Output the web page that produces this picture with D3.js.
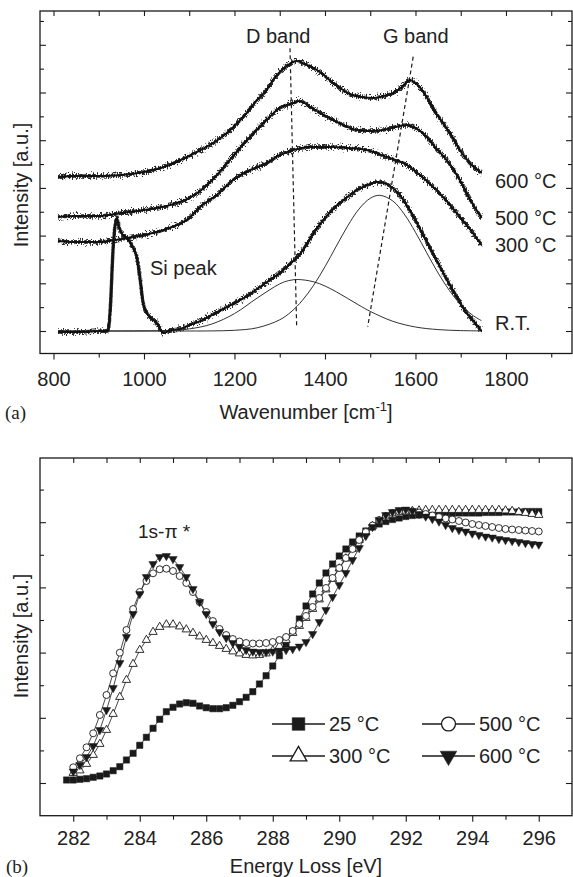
<!DOCTYPE html>
<html><head><meta charset="utf-8">
<script src="https://cdn.jsdelivr.net/npm/d3@7"></script>
<style>
html,body{margin:0;padding:0;background:#fff;}
svg{display:block;}
text{font-family:"Liberation Sans",Arial,Helvetica,sans-serif;fill:#222;}
</style></head><body>
<svg id="chart" width="573" height="877"></svg>
<script>
// ---------- Panel (a): Raman spectra, [wavenumber cm-1, intensity a.u.] ----------
const ramanRT = [[810,-1],[850,-1],[880,-0.5],[910,0],[920,0],[925,18],[932,84],[937,108],[940,113],[944,105],[950,98],[962,93],[976,83],[984,74],[991,54],[998,28],[1005,19],[1013,14],[1028,8],[1043,-2],[1060,1],[1080,2],[1100,6],[1125,10],[1150,16],[1175,22],[1200,28],[1225,34],[1250,42],[1275,50],[1300,58],[1325,68],[1350,80],[1375,98],[1400,113],[1425,125],[1450,134],[1475,142],[1500,147],[1515,149],[1530,148],[1550,143],[1570,133],[1590,119],[1610,102],[1630,85],[1650,68],[1670,51],[1690,35],[1713,18],[1730,9],[1746,0]];
const raman300 = [[810,90],[850,89],[900,89],[950,92],[1000,96],[1050,102],[1100,113],[1124,124],[1161,136],[1197,151],[1230,160],[1271,168],[1300,176],[1330,181],[1367,184],[1418,184],[1450,183],[1492,181],[1536,174],[1581,166],[1625,150],[1669,130],[1698,114],[1720,102],[1746,86]];
const raman500 = [[810,114],[850,115],[900,115],[950,118],[1000,121],[1050,125],[1100,133],[1124,140],[1153,152],[1175,163],[1197,175],[1220,187],[1245,199],[1271,211],[1300,223],[1330,228],[1345,230],[1367,224],[1390,218],[1418,211],[1445,205],[1470,201],[1500,200],[1529,201],[1555,204],[1581,206],[1600,203],[1625,194],[1645,183],[1669,171],[1698,151],[1720,132],[1746,113]];
const raman600 = [[810,154],[850,155],[900,155],[950,156],[1000,159],[1050,165],[1095,174],[1125,181],[1153,188],[1175,195],[1200,205],[1225,217],[1250,231],[1271,241],[1290,254],[1316,265],[1337,270],[1360,266],[1382,261],[1400,255],[1418,248],[1440,241],[1455,237],[1480,234],[1507,233],[1530,235],[1551,238],[1570,244],[1588,251],[1600,248],[1625,234],[1645,218],[1661,208],[1680,195],[1698,181],[1720,168],[1746,158]];
const fitD = [[810,0],[1000,0.1],[1050,0.5],[1100,2.1],[1150,7.0],[1200,17.4],[1250,32.9],[1300,47.1],[1320,50.4],[1340,51.5],[1375,49.2],[1400,45.0],[1425,39.2],[1450,32.6],[1475,25.9],[1500,19.6],[1550,9.7],[1600,4.0],[1650,1.4],[1700,0.4],[1746,0.1]];
const fitG = [[810,0],[1000,0],[1100,0],[1150,0.1],[1200,0.7],[1250,3.2],[1300,11.2],[1325,19.1],[1350,30.6],[1375,45.8],[1400,64.3],[1425,84.8],[1450,104.9],[1475,121.9],[1500,132.7],[1521,135.7],[1550,130],[1575,117],[1600,98.7],[1625,78.1],[1650,58],[1675,40.5],[1700,26.4],[1725,16.2],[1746,10.3]];
const bandD = [[1322.7,282.7],[1337.5,2.7]];
const bandG = [[1595,274.3],[1494.4,4.3]];
const xMajorA = [800,1000,1200,1400,1600,1800];
const xMinorA = [900,1100,1300,1500,1700,1900];
const yMajorA = [0,47.7,95.4,143.1,190.8,238.5,286.2];
const yMinorA = [23.85,71.55,119.25,166.95,214.65,262.35,310.05];
const spectraLabels = ["600 °C","500 °C","300 °C","R.T."];

// ---------- Panel (b): EELS, energy loss (eV) and intensities (a.u.) ----------
const energy = [281.8,282.0,282.2,282.4,282.6,282.8,283.0,283.2,283.4,283.6,283.8,284.0,284.2,284.4,284.6,284.8,285.0,285.2,285.4,285.6,285.8,286.0,286.2,286.4,286.6,286.8,287.0,287.2,287.4,287.6,287.8,288.0,288.2,288.4,288.6,288.8,289.0,289.2,289.4,289.6,289.8,290.0,290.2,290.4,290.6,290.8,291.0,291.2,291.4,291.6,291.8,292.0,292.2,292.4,292.6,292.8,293.0,293.2,293.4,293.6,293.8,294.0,294.2,294.4,294.6,294.8,295.0,295.2,295.4,295.6,295.8,296.0];
const eels25 = [3,3,3.7,4.3,5.7,7,9,12.3,16.3,23,29.7,37.7,45.7,54.7,63.7,71.3,75.7,79,80.3,79.7,77,75.3,74.3,74.3,75.3,77.7,81.3,85.7,91.3,99,107.3,117,127.3,139,151,164,177,189,200,210,219,227,234,241,247,252,256,259,261.5,263.5,265,266.5,267.5,268,268.5,269,269.5,269.5,269.5,270,270,270,270,270.5,270.5,270.5,271,271,271,271.5,271.5,271.5];
const eels300 = [10,12.5,19,28,39,53,69,86,103,119,133,143,151,156,158.5,158.5,156.5,153.5,150,146.5,143,140,137,134,131.5,129.5,128,127.5,128,129.5,132.5,137,143,150,157,165,174,183.5,193.5,204,214.5,224.5,234,243,250.5,257,262,265.5,268,269.5,271,272,272.5,273,273,273,273,273,273,273,273,273,273,273,273,272.5,272,271,270,269,268];
const eels500 = [15.7,24.7,35.7,49.7,68,88,109.7,130.3,153,174,191,202,209.7,213.7,214.3,212,207,200,191,181,171,162,154,148,144,141.5,140,139.5,139.5,140,141,143,146,152,159,167,176,185,195,205,215,225,234,243,251,257.5,263,267,270,271.5,272,271.5,270.5,269,267.5,266,264.5,263.5,262,260.5,259,258,257,256,255,254,253.5,253,252.5,252,251.5];
const eels600 = [11.5,18,26,37,53,73,95,120,146,169,189,206,219,226,227,224,216,206,194,181,169,159,151,145,140,136,133,131.5,131,131,131.5,132,133,134,136.5,141,149,161,173,186,198,210,223,235,247,256,263,268,271,273,273.5,272,269,266.5,264,261.5,258,255,253,251.5,249.5,248,246.5,245.5,244,243,242,241,240,239,238.5];
const xMajorB = [282,284,286,288,290,292,294,296];
const xMinorB = [283,285,287,289,291,293,295];
const yMajorB = [0,65.2,130.4,195.6,260.8];
const yMinorB = [32.6,97.8,163,228.2,293.4];
const legendNames = ["25 °C","300 °C","500 °C","600 °C"];

const ink = "#1a1a1a";
const svg = d3.select("#chart");
const defs = svg.append("defs");

// fine vertical jitter filter to mimic the noisy trace rendering (style only)
const f = defs.append("filter").attr("id","fuzz").attr("filterUnits","userSpaceOnUse")
  .attr("x",0).attr("y",0).attr("width",573).attr("height",400);
f.append("feTurbulence").attr("type","fractalNoise").attr("baseFrequency","0.8 0.5")
  .attr("numOctaves",2).attr("seed",11).attr("result","n");
f.append("feColorMatrix").attr("in","n").attr("type","matrix")
  .attr("values","0 0 0 0 0.5  0 1.8 0 0 -0.4  0 0 1 0 0  0 0 0 0 1").attr("result","n2");
f.append("feDisplacementMap").attr("in","SourceGraphic").attr("in2","n2")
  .attr("scale",6).attr("xChannelSelector","R").attr("yChannelSelector","G");

function styleAxis(g){
  g.select(".domain").remove();
  g.selectAll(".tick line").attr("stroke",ink).attr("stroke-width",1.1);
  g.selectAll(".tick text").attr("font-size",20).attr("fill","#222")
    .attr("font-family","'Liberation Sans',Arial,sans-serif");
}

// ================= Panel (a) =================
const A = {l:40,r:572,t:11,b:353.5};
const xA = d3.scaleLinear().domain([770.2,1945.9]).range([A.l,A.r]);
const yA = d3.scaleLinear().domain([-22.5,320]).range([A.b,A.t]);
const gA = svg.append("g");

gA.append("g").attr("transform",`translate(0,${A.b})`)
  .call(d3.axisBottom(xA).tickValues(xMajorA).tickSize(6).tickPadding(12).tickFormat(d3.format("d"))).call(styleAxis);
gA.append("g").attr("transform",`translate(0,${A.b})`)
  .call(d3.axisBottom(xA).tickValues(xMinorA).tickSize(4).tickFormat("")).call(styleAxis);
gA.append("g").attr("transform",`translate(0,${A.t})`)
  .call(d3.axisTop(xA).tickValues(xMajorA.concat(xMinorA)).tickSize(-5).tickFormat("")).call(styleAxis);
gA.append("g").attr("transform",`translate(${A.l},0)`)
  .call(d3.axisLeft(yA).tickValues(yMajorA).tickSize(-6).tickFormat("")).call(styleAxis);
gA.append("g").attr("transform",`translate(${A.l},0)`)
  .call(d3.axisLeft(yA).tickValues(yMinorA).tickSize(-4).tickFormat("")).call(styleAxis);
gA.append("g").attr("transform",`translate(${A.r},0)`)
  .call(d3.axisRight(yA).tickValues(yMajorA).tickSize(-6).tickFormat("")).call(styleAxis);
gA.append("g").attr("transform",`translate(${A.r},0)`)
  .call(d3.axisRight(yA).tickValues(yMinorA).tickSize(-4).tickFormat("")).call(styleAxis);

const lineA = d3.line().x(d=>xA(d[0])).y(d=>yA(d[1])).curve(d3.curveMonotoneX);
const lineFit = d3.line().x(d=>xA(d[0])).y(d=>yA(d[1])).curve(d3.curveCatmullRom);

// fitted components
[fitD,fitG].forEach(s=>{
  gA.append("path").attr("d",lineFit(s)).attr("fill","none").attr("stroke",ink).attr("stroke-width",0.9);
});
// dashed band guides
const straight = d3.line().x(d=>xA(d[0])).y(d=>yA(d[1]));
[bandD,bandG].forEach(s=>{
  gA.append("path").attr("d",straight(s)).attr("fill","none").attr("stroke",ink)
    .attr("stroke-width",1.2).attr("stroke-dasharray","4,3");
});
// spectra: fuzzy halo (filtered) + solid core
const spectra = [raman600,raman500,raman300,ramanRT];
const gHalo = gA.append("g").attr("filter","url(#fuzz)");
spectra.forEach(s=>{
  gHalo.append("path").attr("d",lineA(s)).attr("fill","none").attr("stroke","#2a2a2a")
    .attr("stroke-width",3.4).attr("stroke-linejoin","round");
});
spectra.forEach(s=>{
  gA.append("path").attr("d",lineA(s)).attr("fill","none").attr("stroke","#111")
    .attr("stroke-width",2.0).attr("stroke-linejoin","round");
});

gA.append("rect").attr("x",A.l).attr("y",A.t).attr("width",A.r-A.l).attr("height",A.b-A.t)
  .attr("fill","none").attr("stroke",ink).attr("stroke-width",1.3);

// annotations
const tA = [[246,43,"D band"],[383,43,"G band"],[150,275,"Si peak"],
  [495,188,spectraLabels[0]],[495,225,spectraLabels[1]],[495,251.5,spectraLabels[2]],[495,330,spectraLabels[3]]];
tA.forEach(t=>gA.append("text").attr("x",t[0]).attr("y",t[1]).attr("font-size",20).text(t[2]));

const tw = gA.append("text").attr("x",306).attr("y",419).attr("text-anchor","middle").attr("font-size",20);
tw.append("tspan").text("Wavenumber [cm");
tw.append("tspan").attr("font-size",13).attr("dy",-8).text("-1");
tw.append("tspan").attr("dy",8).text("]");
gA.append("text").attr("transform","translate(28,185) rotate(-90)").attr("text-anchor","middle")
  .attr("font-size",20).text("Intensity [a.u.]");
gA.append("text").attr("x",5).attr("y",419).attr("font-size",19)
  .style("font-family","'Liberation Serif','Times New Roman',serif").text("(a)");

// ================= Panel (b) =================
const B = {l:40,r:572,t:458,b:815.7};
const xB = d3.scaleLinear().domain([281,297]).range([B.l,B.r]);
const yB = d3.scaleLinear().domain([-32.7,325]).range([B.b,B.t]);
const gB = svg.append("g");

gB.append("g").attr("transform",`translate(0,${B.b})`)
  .call(d3.axisBottom(xB).tickValues(xMajorB).tickSize(6).tickPadding(9).tickFormat(d3.format("d"))).call(styleAxis);
gB.append("g").attr("transform",`translate(0,${B.b})`)
  .call(d3.axisBottom(xB).tickValues(xMinorB).tickSize(4).tickFormat("")).call(styleAxis);
gB.append("g").attr("transform",`translate(0,${B.t})`)
  .call(d3.axisTop(xB).tickValues(xMajorB.concat(xMinorB)).tickSize(-5).tickFormat("")).call(styleAxis);
gB.append("g").attr("transform",`translate(${B.l},0)`)
  .call(d3.axisLeft(yB).tickValues(yMajorB).tickSize(-6).tickFormat("")).call(styleAxis);
gB.append("g").attr("transform",`translate(${B.l},0)`)
  .call(d3.axisLeft(yB).tickValues(yMinorB).tickSize(-4).tickFormat("")).call(styleAxis);
gB.append("g").attr("transform",`translate(${B.r},0)`)
  .call(d3.axisRight(yB).tickValues(yMajorB).tickSize(-6).tickFormat("")).call(styleAxis);
gB.append("g").attr("transform",`translate(${B.r},0)`)
  .call(d3.axisRight(yB).tickValues(yMinorB).tickSize(-4).tickFormat("")).call(styleAxis);

const series = [
  {name:legendNames[0], x:energy, y:eels25, sym:"square"},
  {name:legendNames[1], x:energy.slice(1), y:eels300, sym:"tri"},
  {name:legendNames[2], x:energy.slice(1), y:eels500, sym:"circle"},
  {name:legendNames[3], x:energy.slice(1), y:eels600, sym:"dtri"}
];
function symPath(kind, scale){
  const k = scale||1;
  if(kind==="square") return d3.symbol(d3.symbolSquare, 40*k*k)();
  if(kind==="circle") return d3.symbol(d3.symbolCircle, 38*k*k)();
  return d3.symbol(d3.symbolTriangle, 30*k*k)();
}
function styleSym(sel, kind){
  if(kind==="square"||kind==="dtri") sel.attr("fill",ink).attr("stroke",ink).attr("stroke-width",0.5);
  else sel.attr("fill","#fff").attr("stroke",ink).attr("stroke-width",0.9);
}
const lineB = d3.line().x(d=>xB(d[0])).y(d=>yB(d[1]));
series.forEach(s=>{
  const pts = s.x.map((e,i)=>[e,s.y[i]]);
  gB.append("path").attr("d",lineB(pts)).attr("fill","none").attr("stroke",ink).attr("stroke-width",0.8);
});
series.forEach(s=>{
  const pts = s.x.map((e,i)=>[e,s.y[i]]);
  const p = gB.append("g").selectAll("path").data(pts).join("path")
    .attr("d",symPath(s.sym))
    .attr("transform",d=>`translate(${xB(d[0])},${yB(d[1])})${s.sym==="dtri"?" rotate(180)":""}`);
  styleSym(p,s.sym);
});

gB.append("rect").attr("x",B.l).attr("y",B.t).attr("width",B.r-B.l).attr("height",B.b-B.t)
  .attr("fill","none").attr("stroke",ink).attr("stroke-width",1.3);

// legend
const legPos = [[272,724],[272,756],[422,724],[422,756]];
series.forEach((s,i)=>{
  const [lx,ly] = legPos[i];
  gB.append("line").attr("x1",lx).attr("x2",lx+53).attr("y1",ly).attr("y2",ly).attr("stroke",ink).attr("stroke-width",1.4);
  const m = gB.append("path").attr("d",symPath(s.sym,2))
    .attr("transform",`translate(${lx+26.5},${ly})${s.sym==="dtri"?" rotate(180)":""}`);
  styleSym(m,s.sym); if(s.sym==="tri"||s.sym==="circle") m.attr("stroke-width",1.3);
  gB.append("text").attr("x",lx+57).attr("y",ly+7).attr("font-size",20).text(s.name);
});

gB.append("text").attr("x",138).attr("y",538).attr("font-size",19).text("1s-π *");
gB.append("text").attr("x",306).attr("y",873).attr("text-anchor","middle").attr("font-size",20).text("Energy Loss [eV]");
gB.append("text").attr("transform","translate(28,636) rotate(-90)").attr("text-anchor","middle")
  .attr("font-size",20).text("Intensity [a.u.]");
gB.append("text").attr("x",6).attr("y",873).attr("font-size",19)
  .style("font-family","'Liberation Serif','Times New Roman',serif").text("(b)");
</script>
</body></html>
